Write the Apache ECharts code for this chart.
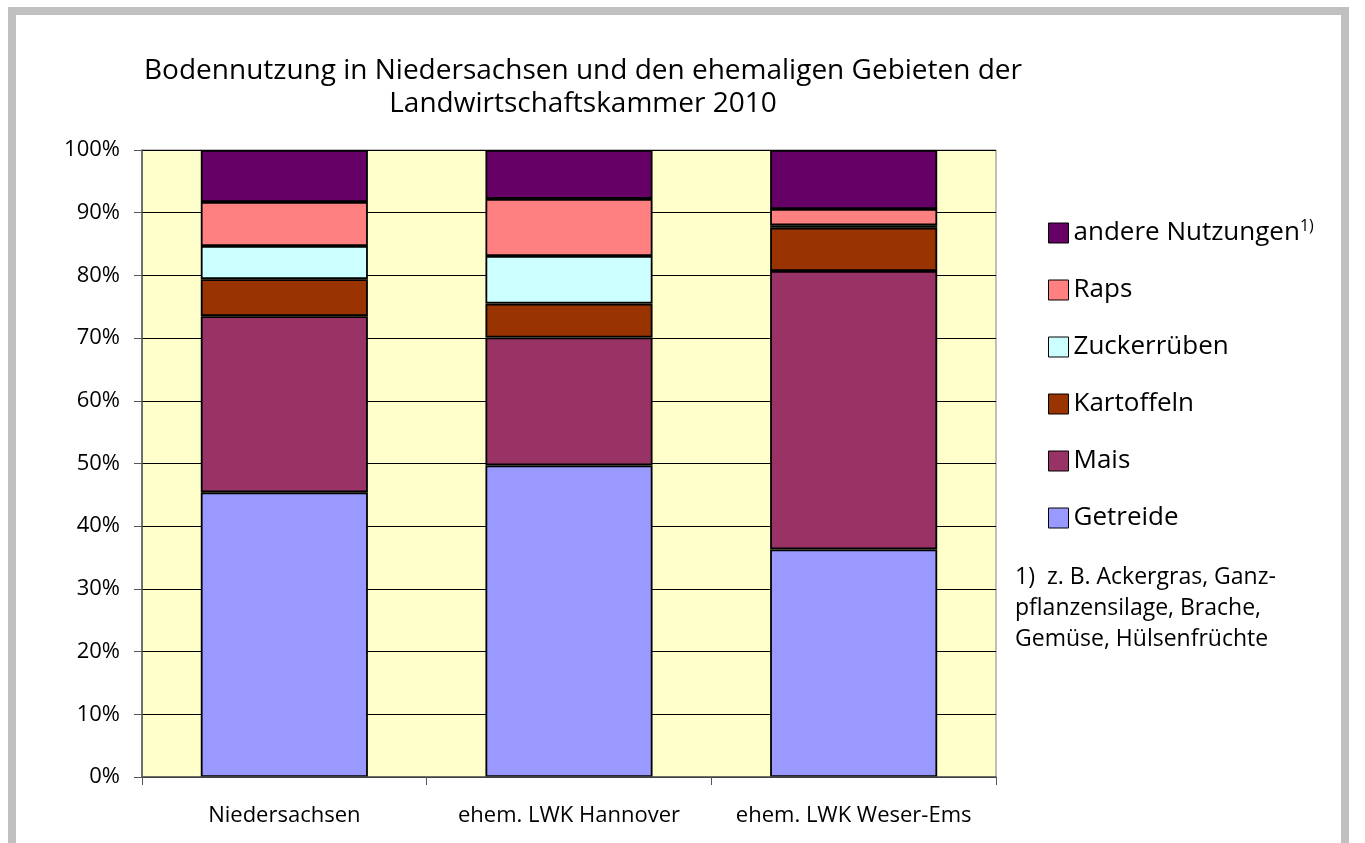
<!DOCTYPE html>
<html>
<head>
    <meta charset="utf-8">
    <title>Bodennutzung 2010</title>
    <script src="https://cdn.jsdelivr.net/npm/echarts@6/dist/echarts.min.js"></script>
    <style>
        html, body { margin: 0; padding: 0; background: #fff; }
        #frame {
            position: absolute; left: 8px; top: 7px; width: 1341px; height: 850px;
            border: 8px solid #c0c0c0; box-sizing: border-box; background: #fff;
        }
        #main { position: absolute; left: 0; top: 0; width: 1365px; height: 843px; }
    </style>
</head>
<body>
<div id="frame"></div>
<div id="main"></div>

<script type="text/javascript">
    // Anteile in Prozent
    var regionen = ['Niedersachsen', 'ehem. LWK Hannover', 'ehem. LWK Weser-Ems'];
    var getreide = [45.4, 49.7, 36.3];
    var mais = [28.1, 20.4, 44.4];
    var kartoffeln = [5.9, 5.4, 6.9];
    var zuckerrueben = [5.3, 7.6, 0.4];
    var raps = [7.0, 9.1, 2.6];
    var andere = [8.3, 7.8, 9.4];
    var yTicks = [0, 10, 20, 30, 40, 50, 60, 70, 80, 90, 100];

    var font = '"Open Sans", "Noto Sans", sans-serif';
    var myChart = echarts.init(document.getElementById('main'));

    function serie(name, data, color) {
        return {
            name: name,
            type: 'bar',
            stack: 'gesamt',
            barWidth: '58.7%',
            data: data,
            itemStyle: { color: color, borderColor: '#000', borderWidth: 1.8 }
        };
    }

    var option = {
        backgroundColor: 'transparent',
        animation: false,
        title: {
            text: 'Bodennutzung in Niedersachsen und den ehemaligen Gebieten der\nLandwirtschaftskammer 2010',
            left: 578,
            top: 50,
            textAlign: 'center',
            textStyle: { fontFamily: font, fontSize: 28, fontWeight: 'normal', color: '#000', lineHeight: 33 }
        },
        grid: {
            left: 142, top: 150, right: 369, bottom: 66,
            show: true, backgroundColor: '#ffffcc', borderColor: '#808080', borderWidth: 1
        },
        legend: {
            orient: 'vertical',
            left: 1048,
            top: 218,
            padding: 0,
            itemWidth: 20,
            itemHeight: 20,
            itemGap: 31,
            icon: 'rect',
            data: ['andere Nutzungen', 'Raps', 'Zuckerrüben', 'Kartoffeln', 'Mais', 'Getreide'],
            itemStyle: { borderColor: '#000', borderWidth: 1 },
            formatter: function (name) {
                if (name === 'andere Nutzungen') {
                    return '{t|' + name + '}{s|1)}';
                }
                return '{t|' + name + '}';
            },
            textStyle: {
                fontFamily: font, fontSize: 26, color: '#000', padding: [0, 0, 0, 0],
                rich: {
                    t: { fontFamily: font, fontSize: 26, color: '#000', lineHeight: 30 },
                    s: { fontFamily: font, fontSize: 16, color: '#000', lineHeight: 30, verticalAlign: 'top', padding: [0, 0, 12, 0] }
                }
            }
        },
        graphic: [{
            type: 'text',
            left: 1015,
            top: 562,
            style: {
                text: '1)  z. B. Ackergras, Ganz-\npflanzensilage, Brache,\nGemüse, Hülsenfrüchte',
                fontFamily: font, fontSize: 23, lineHeight: 31, fill: '#000'
            }
        }],
        xAxis: {
            type: 'category',
            data: regionen,
            axisLine: { lineStyle: { color: '#555', width: 1.5 } },
            axisTick: { show: true, length: 8, lineStyle: { color: '#555' } },
            axisLabel: { fontFamily: font, fontSize: 22, color: '#000', margin: 28, interval: 0 },
            z: 5
        },
        yAxis: {
            type: 'value',
            min: yTicks[0],
            max: yTicks[yTicks.length - 1],
            interval: 10,
            axisLine: { show: true, lineStyle: { color: '#555', width: 1.5 } },
            axisTick: { show: true, length: 8, lineStyle: { color: '#555' } },
            axisLabel: { fontFamily: font, fontSize: 22, color: '#000', margin: 22, formatter: '{value}%' },
            splitLine: { lineStyle: { color: '#000', width: 1 } }
        },
        series: [
            serie('Getreide', getreide, '#9999ff'),
            serie('Mais', mais, '#993366'),
            serie('Kartoffeln', kartoffeln, '#993300'),
            serie('Zuckerrüben', zuckerrueben, '#ccffff'),
            serie('Raps', raps, '#ff8080'),
            serie('andere Nutzungen', andere, '#660066')
        ]
    };

    myChart.setOption(option);
</script>
</body>
</html>
